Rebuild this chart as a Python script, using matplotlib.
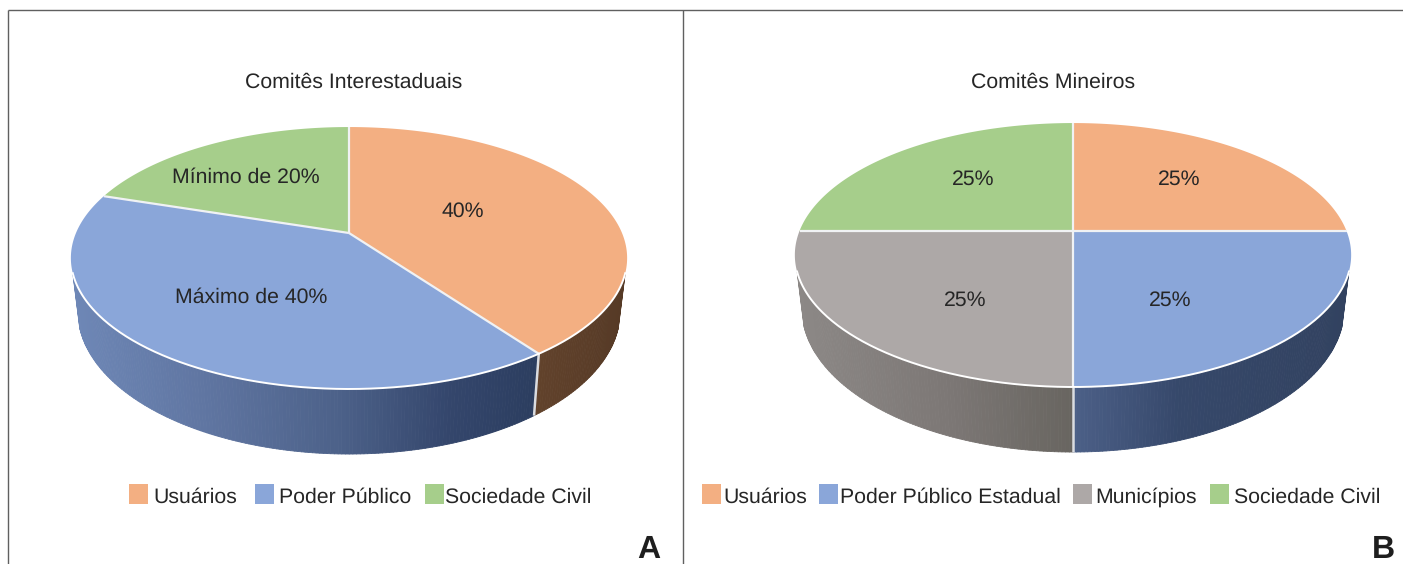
import numpy as np
import matplotlib
matplotlib.use("Agg")
import matplotlib.pyplot as plt
from matplotlib.collections import PolyCollection
from matplotlib.patches import Rectangle

plt.rcParams['font.family'] = ['Liberation Sans', 'DejaVu Sans']
plt.rcParams['text.hinting'] = 'no_hinting'

# Composition of the committees (percent of seats)
interstate_categories = ["Usuários", "Poder Público", "Sociedade Civil"]
interstate_values = [40, 40, 20]
interstate_labels = ["40%", "Máximo de 40%", "Mínimo de 20%"]

state_categories = ["Usuários", "Poder Público Estadual", "Municípios", "Sociedade Civil"]
state_values = [25, 25, 25, 25]
state_labels = ["25%", "25%", "25%", "25%"]

ORANGE, BLUE, GRAY, GREEN = "#F3AF82", "#8AA6D9", "#ADA8A7", "#A6CE8B"
TEXT = "#262626"
FONT_SIZE = 15.3

# Wall shading: colour stops along the horizontal screen position of a slice
WALL_ORANGE = ([520, 625], [(100, 68, 45), (86, 58, 38)])
WALL_BLUE_A = ([72, 200, 340, 450, 535], [(110, 135, 182), (96, 118, 162), (76, 97, 137), (52, 70, 108), (44, 62, 96)])
WALL_GREEN = ([100, 350], [(110, 140, 90), (110, 140, 90)])
WALL_BLUE_B = ([1073, 1180, 1350], [(76, 96, 136), (54, 72, 106), (50, 66, 96)])
WALL_GRAY = ([797, 950, 1073], [(140, 136, 134), (124, 119, 117), (104, 101, 96)])
WALL_GREEN_B = ([797, 1073], [(110, 140, 90), (110, 140, 90)])
WALL_ORANGE_B = ([1073, 1350], [(100, 68, 45), (86, 58, 38)])

# Angular span of the visible front wall, clockwise from the top of the disc
FRONT_START = np.arccos(-0.30)
FRONT_STOP = 2 * np.pi - FRONT_START

fig = plt.figure(figsize=(14.03, 5.64), dpi=100, facecolor="white")
ax = fig.add_axes([0, 0, 1, 1])
ax.set_xlim(0, 1403)
ax.set_ylim(564, 0)
ax.axis("off")


def project(theta, a, b, k):
    """Perspective view of the unit disc; theta runs clockwise from the top."""
    x, y = np.sin(theta), np.cos(theta)
    w = 1 + k * y
    return a * x / w, -b * y / w


def draw_disc(values, colors, walls, cx, cy, a, b, k):
    edges = 2 * np.pi * np.cumsum([0] + list(values)) / sum(values)

    def top(t):
        sx, sy = project(t, a, b, k)
        return cx + sx, cy + sy

    def bottom(t):
        sx, sy = project(t, a, b, k)
        return cx + 0.975 * sx, cy + 1.09 * sy + 51

    # side wall, shaded strip by strip
    for start, stop, (stops, rgb) in zip(edges[:-1], edges[1:], walls):
        start, stop = max(start, FRONT_START), min(stop, FRONT_STOP)
        if stop <= start:
            continue
        t = np.linspace(start, stop, max(int((stop - start) * 90), 4))
        tx, ty = top(t)
        bx, by = bottom(t)
        quads, shades = [], []
        rgb = np.array(rgb) / 255
        for i in range(len(t) - 1):
            quads.append([(tx[i], ty[i]), (tx[i + 1], ty[i + 1]),
                          (bx[i + 1], by[i + 1]), (bx[i], by[i])])
            mid = (tx[i] + tx[i + 1]) / 2
            shades.append([np.interp(mid, stops, rgb[:, c]) for c in range(3)])
        ax.add_collection(PolyCollection(quads, facecolors=shades, edgecolors=shades,
                                         linewidths=0.6, zorder=1))
    # pale seams between the slices on the wall
    for e in edges[:-1]:
        if FRONT_START < e < FRONT_STOP:
            tx, ty = top(np.array(e))
            bx, by = bottom(np.array(e))
            ax.plot([tx, bx], [ty, by], color="#DADCE0", lw=1.8, zorder=2, solid_capstyle="butt")

    # top face
    for start, stop, color in zip(edges[:-1], edges[1:], colors):
        t = np.linspace(start, stop, 200)
        tx, ty = top(t)
        ax.fill(np.r_[cx, tx], np.r_[cy, ty], facecolor=color, edgecolor="none", zorder=3)
    for e in edges[:-1]:
        tx, ty = top(np.array(e))
        ax.plot([cx, tx], [cy, ty], color="#F0F2F4", lw=1.6, zorder=4, solid_capstyle="butt")
    t = np.linspace(FRONT_START, FRONT_STOP, 300)
    tx, ty = top(t)
    ax.plot(tx, ty, color="white", lw=1.4, zorder=4)


def draw_key(items):
    for x0, text_x, color, name in items:
        ax.add_patch(Rectangle((x0, 484), 19, 20, facecolor=color, edgecolor="none", zorder=3))
        ax.text(text_x, 503, name, fontsize=FONT_SIZE, color=TEXT, ha="left", va="baseline")


# Panel frame
for xs, ys in [([8, 8], [10, 564]), ([8, 1403], [10, 10]), ([683, 683], [10, 564])]:
    ax.plot(xs, ys, color="#606060", lw=1.0, solid_capstyle="butt", clip_on=False)

# Panel A
draw_disc(interstate_values, [ORANGE, BLUE, GREEN], [WALL_ORANGE, WALL_BLUE_A, WALL_GREEN],
          349, 233, 273, 126.2, 0.191)
for (x, y), s in zip([(463, 217), (251, 303), (246, 183)], interstate_labels):
    ax.text(x, y, s, fontsize=FONT_SIZE, color=TEXT, ha="center", va="baseline", zorder=5)
ax.text(354, 88, "Comitês Interestaduais", fontsize=FONT_SIZE, color=TEXT, ha="center", va="baseline")
draw_key(zip([129, 255, 425], [153, 279, 445], [ORANGE, BLUE, GREEN], interstate_categories))
ax.text(649, 558, "A", fontsize=23, fontweight="bold", color="#1E1E1E", ha="center", va="baseline")

# Panel B
draw_disc(state_values, [ORANGE, BLUE, GRAY, GREEN],
          [WALL_ORANGE_B, WALL_BLUE_B, WALL_GRAY, WALL_GREEN_B],
          1073, 231, 273.5, 127.6, 0.182)
for (x, y), s in zip([(1179, 185), (1170, 306), (965, 306), (973, 185)], state_labels):
    ax.text(x, y, s, fontsize=FONT_SIZE, color=TEXT, ha="center", va="baseline", zorder=5)
ax.text(1053, 88, "Comitês Mineiros", fontsize=FONT_SIZE, color=TEXT, ha="center", va="baseline")
draw_key(zip([702, 819, 1073, 1210], [723, 840, 1095, 1234], [ORANGE, BLUE, GRAY, GREEN], state_categories))
ax.text(1383, 558, "B", fontsize=23, fontweight="bold", color="#1E1E1E", ha="center", va="baseline")

fig.savefig("out.png", dpi=100, facecolor="white")
